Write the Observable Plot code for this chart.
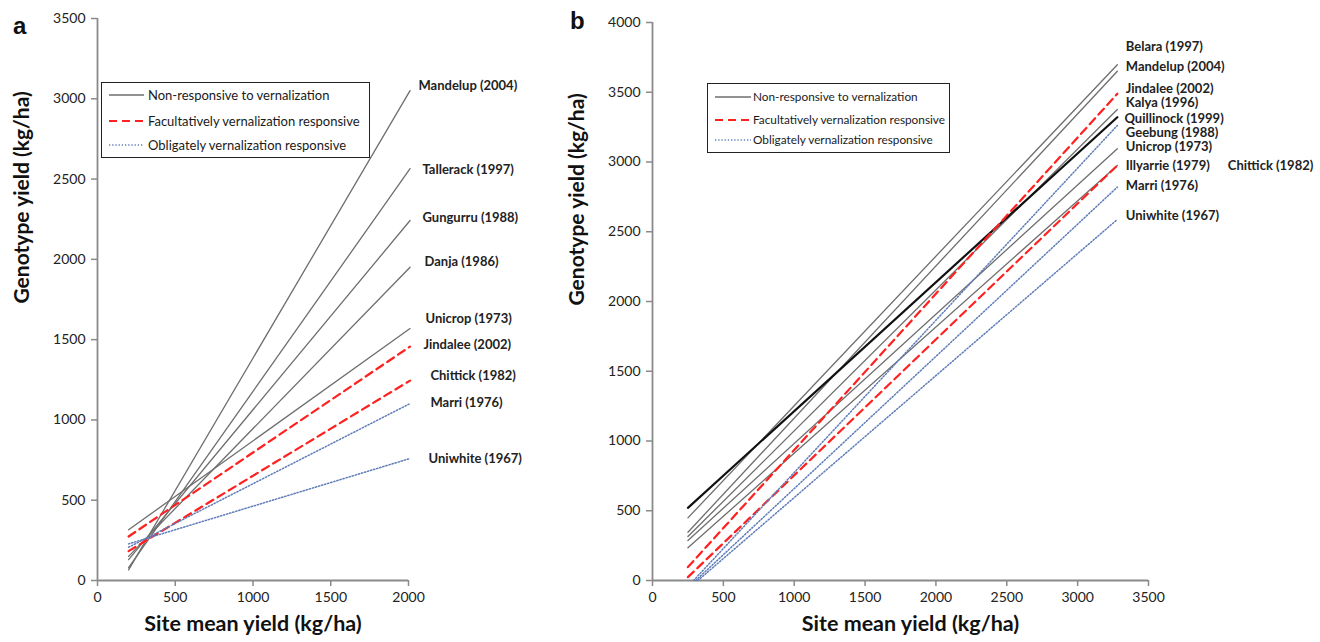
<!DOCTYPE html>
<html><head><meta charset="utf-8">
<script src="https://cdn.jsdelivr.net/npm/d3@7"></script>
<script src="https://cdn.jsdelivr.net/npm/@observablehq/plot@0.6"></script>
<style>
body{margin:0;background:#fff;font-family:Lato,"Open Sans",sans-serif;}
#wrap{position:relative;width:1320px;height:642px;overflow:hidden;}
.panel{position:absolute;top:0;}
.letter{position:absolute;font-family:"Liberation Sans",Arial,sans-serif;font-weight:bold;font-size:24px;color:#111;}
.legend{position:absolute;border:1.3px solid #222;background:#fff;box-sizing:border-box;}
.legend .row{position:absolute;left:0;height:16px;white-space:nowrap;color:#1a1a1a;}
.legend .row svg{position:absolute;top:0;}
.legend .row span{position:absolute;top:0;line-height:16px;}
</style></head><body>
<div id="wrap"></div>
<script>
// ---------- Panel a data ----------
const cultivarsA = ["Mandelup (2004)","Tallerack (1997)","Gungurru (1988)","Danja (1986)","Unicrop (1973)","Jindalee (2002)","Chittick (1982)","Marri (1976)","Uniwhite (1967)"];
const responseA = ["non","non","non","non","non","fac","fac","obl","obl"];
const startSiteA = [200,200,200,200,200,200,200,200,200];
const startYieldA = [66,80,130,150,316,274,183,207,228];
const endSiteA = [2010,2010,2010,2010,2010,2010,2010,2010,2010];
const endYieldA = [3051,2565,2242,1951,1569,1457,1245,1102,760];
const labelSiteA = [2064,2090,2090,2103,2109,2096,2141,2141,2129];
const labelYieldA = [3082,2559,2260,1986,1631,1469,1276,1108,760];
const xTicksA = [0,500,1000,1500,2000];
const yTicksA = [0,500,1000,1500,2000,2500,3000,3500];

// ---------- Panel b data ----------
const cultivarsB = ["Belara (1997)","Mandelup (2004)","Jindalee (2002)","Kalya (1996)","Quillinock (1999)","Geebung (1988)","Unicrop (1973)","Illyarrie (1979)","Chittick (1982)","Marri (1976)","Uniwhite (1967)"];
const responseB = ["non","non","fac","non","bold","obl","non","non","fac","obl","obl"];
const startSiteB = [250,250,250,250,250,290,250,250,250,305,320];
const startYieldB = [449,346,96,315,521,0,287,234,24,0,0];
const endSiteB = [3280,3280,3280,3280,3280,3280,3280,3280,3280,3280,3280];
const endYieldB = [3697,3651,3489,3376,3321,3262,3095,2975,2975,2820,2588];
const labelSiteB = [3340,3340,3340,3340,3330,3340,3340,3340,4060,3340,3340];
const labelYieldB = [3823,3680,3525,3422,3310,3209,3106,2975,2975,2832,2616];
const xTicksB = [0,500,1000,1500,2000,2500,3000,3500];
const yTicksB = [0,500,1000,1500,2000,2500,3000,3500,4000];

const legendEntries = ["Non-responsive to vernalization","Facultatively vernalization responsive","Obligately vernalization responsive"];

const styles = {
  non:  {stroke:"#6e6e6e", strokeWidth:1.3},
  bold: {stroke:"#111111", strokeWidth:2.2},
  fac:  {stroke:"#ff2020", strokeWidth:2.2, strokeDasharray:"8,5"},
  obl:  {stroke:"#5f7db8", strokeWidth:1.5, strokeDasharray:"1.3,1.9"}
};

function rowsOf(names, resp, sx, sy, ex, ey) {
  const rows = [];
  names.forEach((n,i) => {
    rows.push({name:n, type:resp[i], site:sx[i], yield:sy[i]});
    rows.push({name:n, type:resp[i], site:ex[i], yield:ey[i]});
  });
  return rows;
}

function makePanel(cfg) {
  const rows = rowsOf(cfg.names, cfg.resp, cfg.sx, cfg.sy, cfg.ex, cfg.ey);
  const labels = cfg.names.map((n,i) => ({name:n, site:cfg.lx[i], yield:cfg.ly[i]}));
  const lineMarks = ["non","bold","fac","obl"].map(t =>
    Plot.line(rows.filter(r => r.type === t), {x:"site", y:"yield", z:"name", ...styles[t]}));
  return Plot.plot({
    width: cfg.width, height: 642,
    marginLeft: cfg.ml, marginRight: cfg.mr, marginTop: cfg.mt, marginBottom: 62,
    style: {fontFamily: "Lato, 'Open Sans', sans-serif", fontSize: "14px", color: "#222", background: "transparent", overflow: "visible"},
    x: {domain: cfg.xdom},
    y: {domain: cfg.ydom},
    marks: [
      Plot.axisX({ticks: cfg.xt, tickSize: 6, tickPadding: 6, stroke: "#8a8a8a", strokeWidth: 1.5, fill: "#222", label: null, tickFormat: d => String(d)}),
      Plot.axisY({ticks: cfg.yt, tickSize: 6, tickPadding: 6, stroke: "#8a8a8a", strokeWidth: 1.5, fill: "#222", label: null, tickFormat: d => String(d)}),
      Plot.ruleX([0], {stroke: "#8a8a8a", strokeWidth: 1.8}),
      Plot.ruleY([0], {stroke: "#8a8a8a", strokeWidth: 1.8}),
      ...lineMarks,
      Plot.text(labels, {x:"site", y:"yield", text:"name", textAnchor:"start", fontWeight:"bold", fontSize:13, fill:"#222"}),
      Plot.text(["Genotype yield (kg/ha)"], {frameAnchor:"left", rotate:-90, dx: cfg.ytdx, dy: cfg.ytdy, fontSize:21, fontWeight:"bold", fill:"#111"}),
      Plot.text(["Site mean yield (kg/ha)"], {frameAnchor:"bottom", dy:50, dx: cfg.xtdx, fontSize:21.5, fontWeight:"bold", fill:"#111"})
    ]
  });
}

const wrap = document.getElementById("wrap");

const pa = makePanel({names:cultivarsA, resp:responseA, sx:startSiteA, sy:startYieldA, ex:endSiteA, ey:endYieldA,
  lx:labelSiteA, ly:labelYieldA, xt:xTicksA, yt:yTicksA, xdom:[0,2000], ydom:[0,3500],
  width:560, ml:97, mr:152, mt:18, ytdx:-75, ytdy:4, xtdx:0});
pa.classList.add("panel"); pa.style.left = "0px";
wrap.appendChild(pa);

const pb = makePanel({names:cultivarsB, resp:responseB, sx:startSiteB, sy:startYieldB, ex:endSiteB, ey:endYieldB,
  lx:labelSiteB, ly:labelYieldB, xt:xTicksB, yt:yTicksB, xdom:[0,3500], ydom:[0,4000],
  width:760, ml:92, mr:172, mt:22, ytdx:-75, ytdy:4, xtdx:10});
pb.classList.add("panel"); pb.style.left = "560px";
wrap.appendChild(pb);

function letter(t, x, y) {
  const d = document.createElement("div");
  d.className = "letter"; d.textContent = t;
  d.style.left = x + "px"; d.style.top = y + "px";
  wrap.appendChild(d);
}
letter("a", 13, 12);
letter("b", 570, 7);

function legend(box) {
  const d = document.createElement("div");
  d.className = "legend";
  Object.assign(d.style, {left: box.left+"px", top: box.top+"px", width: box.w+"px", height: box.h+"px"});
  const keys = ["non","fac","obl"];
  legendEntries.forEach((txt, i) => {
    const r = document.createElement("div");
    r.className = "row";
    r.style.top = (box.rows[i] - 8) + "px";
    r.style.width = "100%";
    const st = styles[keys[i]];
    const sw = box.sampleX1 - box.sampleX0;
    r.innerHTML = `<svg width="${sw+2}" height="16" style="left:${box.sampleX0}px"><line x1="1" x2="${sw+1}" y1="8" y2="8" stroke="${st.stroke}" stroke-width="${st.strokeWidth}" ${st.strokeDasharray ? `stroke-dasharray="${st.strokeDasharray}"` : ""}/></svg><span style="left:${box.textX}px;font-size:${box.fs}px">${txt}</span>`;
    d.appendChild(r);
  });
  wrap.appendChild(d);
}
legend({left:101, top:82, w:269, h:76, rows:[12,38,62], sampleX0:6, sampleX1:41, textX:46, fs:13});
legend({left:707, top:83, w:243, h:70, rows:[13,36,56], sampleX0:6, sampleX1:42, textX:45, fs:11.8});
</script>
</body></html>
